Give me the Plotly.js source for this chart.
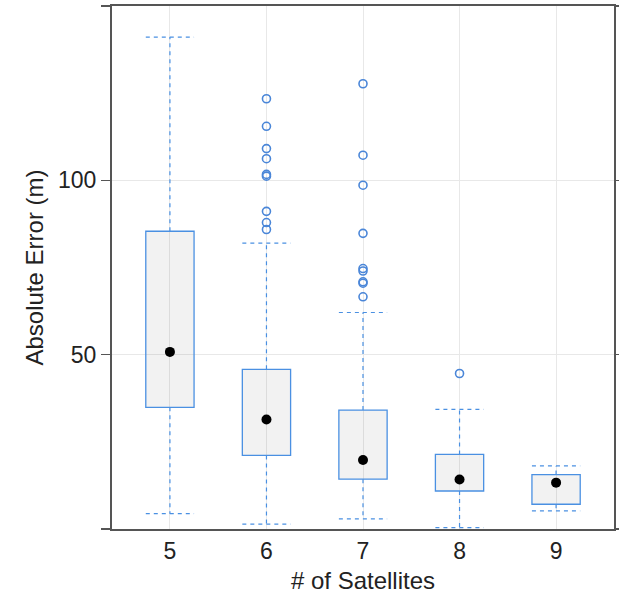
<!DOCTYPE html>
<html>
<head>
<meta charset="utf-8">
<script src="https://cdn.plot.ly/plotly-3.0.1.min.js"></script>
<style>html,body{margin:0;padding:0;background:#fff;}#chart{width:619px;height:598px;}</style>
</head>
<body>
<div id="chart"></div>
<script>
// ---- data ----
const satellites = [5, 6, 7, 8, 9];
const q1Vals     = [34.9, 21.1, 14.3, 10.9, 7.1];
const medianVals = [50.8, 31.4, 19.8, 14.2, 13.3];
const q3Vals     = [85.4, 45.8, 34.1, 21.4, 15.6];
const lowerVals  = [4.4, 1.4, 2.9, 0.4, 5.2];
const upperVals  = [141.1, 82.0, 62.1, 34.3, 18.1];
const outlierSat = [6, 6, 6, 6, 6, 6, 6, 6, 6,
                    7, 7, 7, 7, 7, 7, 7, 7, 7,
                    8];
const outlierVal = [123.4, 115.5, 109.1, 106.2, 101.7, 101.2, 91.1, 87.9, 85.9,
                    127.7, 107.2, 98.6, 84.8, 74.7, 74.0, 70.9, 70.5, 66.6,
                    44.6];
const yTickVals  = [0, 50, 100, 150];
const yTickText  = ['', '50', '100', ''];

// ---- styling ----
const BLUE = '#4a90e2';
const HALF = 0.25; // half box width in x units
const FONT = 'Liberation Sans, Arial, sans-serif';

// whisker stems
const wx = [], wy = [];
satellites.forEach((c, i) => {
  wx.push(c, c, null, c, c, null);
  wy.push(q3Vals[i], upperVals[i], null, q1Vals[i], lowerVals[i], null);
});
// whisker caps
const cx = [], cy = [];
satellites.forEach((c, i) => {
  cx.push(c - HALF, c + HALF, null, c - HALF, c + HALF, null);
  cy.push(upperVals[i], upperVals[i], null, lowerVals[i], lowerVals[i], null);
});

const traces = [
  {
    type: 'bar', x: satellites,
    y: q3Vals.map((v, i) => v - q1Vals[i]),
    base: q1Vals, width: 2 * HALF,
    marker: {color: 'rgba(0,0,0,0.05)', line: {color: BLUE, width: 1.3}},
    hoverinfo: 'skip'
  },
  {
    type: 'scatter', mode: 'lines', x: wx, y: wy,
    line: {color: BLUE, width: 1.2, dash: '4px,4px'}, hoverinfo: 'skip'
  },
  {
    type: 'scatter', mode: 'lines', x: cx, y: cy,
    line: {color: BLUE, width: 1.2, dash: '4px,4px'}, hoverinfo: 'skip'
  },
  {
    type: 'scatter', mode: 'markers', x: outlierSat, y: outlierVal,
    marker: {symbol: 'circle-open', size: 8, color: '#4a86d8', line: {width: 1.6, color: '#4a86d8'}}
  },
  {
    type: 'scatter', mode: 'markers', x: satellites, y: medianVals,
    marker: {symbol: 'circle', size: 10, color: '#000'}
  }
];

const layout = {
  width: 619, height: 598,
  margin: {l: 112, r: 5, t: 6, b: 69},
  paper_bgcolor: '#fff', plot_bgcolor: '#fff',
  showlegend: false,
  font: {family: FONT, color: '#222', size: 22},
  xaxis: {
    range: [4.4, 9.6],
    tickvals: satellites, ticktext: satellites.map(String),
    ticks: '', showgrid: true, gridcolor: '#e8e8e8', gridwidth: 1,
    zeroline: false,
    showline: true, linecolor: '#555', linewidth: 2, mirror: true,
    tickfont: {family: FONT, size: 23, color: '#222'},
    title: {text: '# of Satellites', font: {family: FONT, size: 24, color: '#222'}, standoff: 10}
  },
  yaxis: {
    range: [0, 150],
    tickvals: yTickVals, ticktext: yTickText,
    ticks: 'outside', ticklen: 9, tickwidth: 1.5, tickcolor: '#555',
    showgrid: true, gridcolor: '#e8e8e8', gridwidth: 1,
    zeroline: false,
    showline: true, linecolor: '#555', linewidth: 2, mirror: 'ticks',
    tickfont: {family: FONT, size: 23, color: '#222'},
    title: {text: 'Absolute Error (m)', font: {family: FONT, size: 24, color: '#222'}, standoff: 8}
  }
};

Plotly.newPlot('chart', traces, layout, {displayModeBar: false, staticPlot: true});
</script>
</body>
</html>
